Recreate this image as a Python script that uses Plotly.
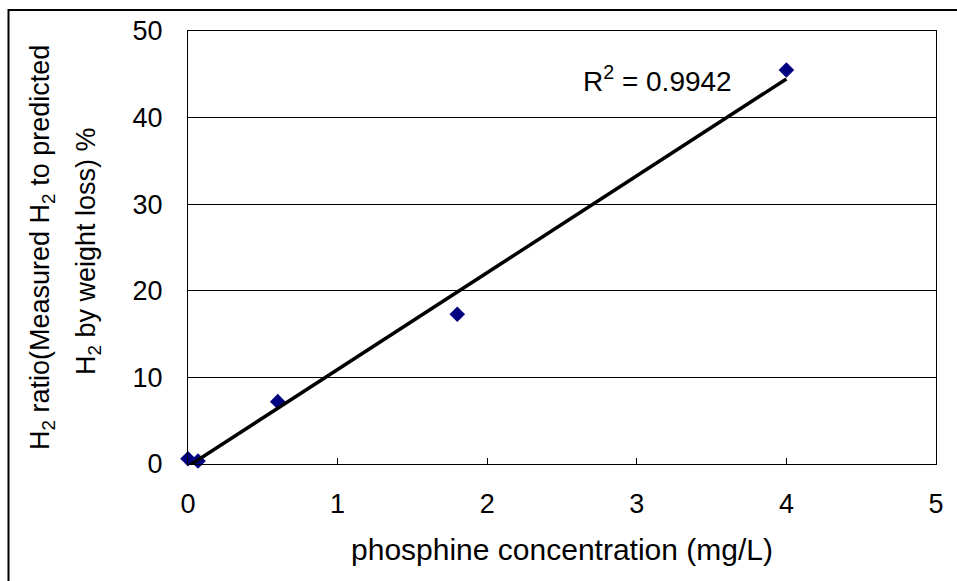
import numpy as np
import plotly.graph_objects as go

# Data
phosphine_mg_L = [0.0, 0.067, 0.6, 1.8, 4.0]
h2_ratio_pct = [0.6, 0.35, 7.2, 17.3, 45.5]
x_ticks = [0, 1, 2, 3, 4, 5]
y_ticks = [0, 10, 20, 30, 40, 50]
r2_label = "R<sup>2</sup> = 0.9942"

# Linear trend line (least squares) through the data
slope, intercept = np.polyfit(phosphine_mg_L, h2_ratio_pct, 1)
fit_x = [min(phosphine_mg_L), max(phosphine_mg_L)]
fit_y = [slope * v + intercept for v in fit_x]

FONT = "Liberation Sans, Arial, sans-serif"

fig = go.Figure()
fig.add_trace(go.Scatter(
    x=phosphine_mg_L, y=h2_ratio_pct, mode="markers",
    marker=dict(symbol="diamond", size=12, color="#000080", line=dict(width=0)),
    showlegend=False, cliponaxis=False,
))
fig.add_trace(go.Scatter(
    x=fit_x, y=fit_y, mode="lines",
    line=dict(color="black", width=3.5),
    showlegend=False, cliponaxis=False,
))

ML, MR, MT, MB = 188, 21, 31, 117
W, H = 957, 581
pw = W - ML - MR
ph = H - MT - MB

def px_x(p):
    return (p - ML) / pw

def px_y(p):
    return (H - MB - p) / ph

fig.update_layout(
    width=W, height=H,
    margin=dict(l=ML, r=MR, t=MT, b=MB),
    paper_bgcolor="white", plot_bgcolor="white",
    font=dict(family=FONT, size=27, color="black"),
    xaxis=dict(
        range=[0, 5], tickvals=x_ticks, ticktext=[str(v) for v in x_ticks],
        showgrid=False, zeroline=False,
        showline=True, mirror=True, linecolor="black", linewidth=1,
        ticks="inside", ticklen=6, tickcolor="black", tickwidth=1,
        ticklabelstandoff=16,
        tickfont=dict(size=27),
        title=dict(text="phosphine concentration (mg/L)", font=dict(size=30), standoff=20),
    ),
    yaxis=dict(
        range=[0, 50], tickvals=y_ticks, ticktext=[str(v) for v in y_ticks],
        showgrid=True, gridcolor="black", gridwidth=1,
        zeroline=False,
        showline=True, mirror=True, linecolor="black", linewidth=1,
        ticks="", ticklabelstandoff=19,
        tickfont=dict(size=27),
    ),
    annotations=[
        dict(text="H<sub>2</sub> ratio(Measured H<sub>2</sub> to predicted",
             xref="paper", yref="paper", x=px_x(42), y=px_y(248),
             xanchor="center", yanchor="middle", textangle=-90,
             showarrow=False, font=dict(size=27)),
        dict(text="H<sub>2</sub> by weight loss) %",
             xref="paper", yref="paper", x=px_x(88), y=px_y(251),
             xanchor="center", yanchor="middle", textangle=-90,
             showarrow=False, font=dict(size=27)),
        dict(text=r2_label, xref="x", yref="y", x=3.135, y=44.5,
             xanchor="center", yanchor="middle", showarrow=False,
             font=dict(size=28)),
    ],
    shapes=[
        dict(type="rect", xref="paper", yref="paper",
             x0=px_x(8.5), x1=px_x(W + 20), y0=px_y(H + 20), y1=px_y(10),
             line=dict(color="black", width=2), fillcolor="rgba(0,0,0,0)",
             layer="above"),
    ],
)

fig.write_html("out.html")
